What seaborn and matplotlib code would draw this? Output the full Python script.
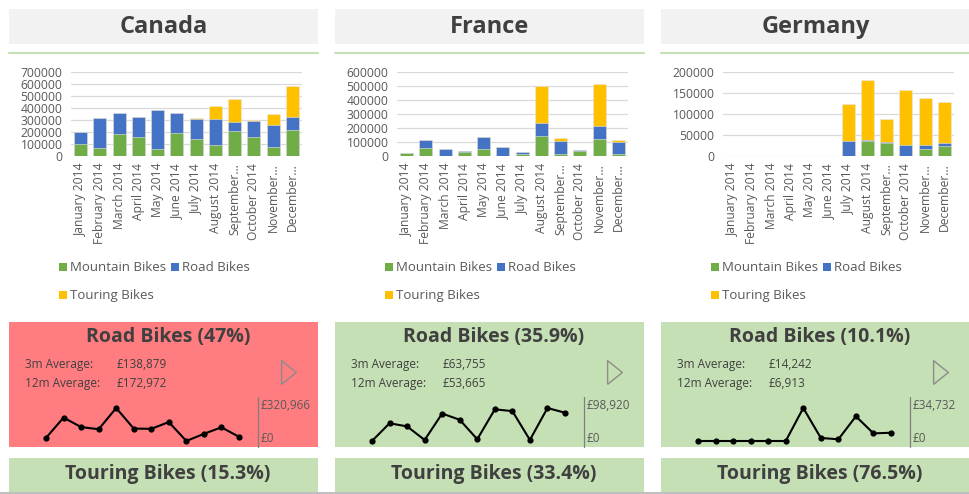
import matplotlib
matplotlib.use("Agg")
import matplotlib.pyplot as plt
import seaborn as sns
import numpy as np
from matplotlib.patches import Rectangle

# ---------------- data ----------------
months = ["January 2014", "February 2014", "March 2014", "April 2014", "May 2014",
          "June 2014", "July 2014", "August 2014", "September 2014", "October 2014",
          "November 2014", "December 2014"]
month_labels = ["January 2014", "February 2014", "March 2014", "April 2014", "May 2014",
                "June 2014", "July 2014", "August 2014", "September…", "October 2014",
                "November…", "December…"]
countries = ["Canada", "France", "Germany"]
products = ["Mountain Bikes", "Road Bikes", "Touring Bikes"]

mountain_ca = [97000, 67000, 181000, 161000, 61000, 189000, 144000, 94000, 206000, 161000, 78000, 214000]
road_ca = [100000, 250000, 180000, 164000, 320966, 169000, 167000, 217000, 77000, 130000, 178000, 108000]
touring_ca = [0, 0, 0, 0, 0, 0, 8000, 106000, 195000, 11000, 94000, 263000]

mountain_fr = [18000, 58000, 3000, 31000, 53000, 2000, 16000, 140000, 17000, 34000, 118000, 17000]
road_fr = [4000, 55000, 46000, 7000, 83000, 65000, 9000, 95000, 90000, 7000, 98920, 85350]
touring_fr = [0, 0, 0, 0, 0, 0, 0, 265000, 24000, 0, 300000, 14000]

mountain_de = [0, 0, 0, 0, 0, 0, 0, 36000, 31000, 0, 17000, 23000]
road_de = [0, 0, 0, 0, 0, 0, 34732, 3200, 1800, 26000, 8000, 8700]
touring_de = [0, 0, 0, 0, 0, 0, 89000, 142000, 55000, 132000, 112000, 98000]

y_max = [700000, 600000, 200000]
y_step = [100000, 100000, 50000]

road_titles = ["Road Bikes (47%)", "Road Bikes (35.9%)", "Road Bikes (10.1%)"]
touring_titles = ["Touring Bikes (15.3%)", "Touring Bikes (33.4%)", "Touring Bikes (76.5%)"]
avg3_text = ["£138,879", "£63,755", "£14,242"]
avg12_text = ["£172,972", "£53,665", "£6,913"]
spark_max_text = ["£320,966", "£98,920", "£34,732"]
card_colors = ["#FF7C80", "#C5E0B4", "#C5E0B4"]

mountain = [mountain_ca, mountain_fr, mountain_de]
road = [road_ca, road_fr, road_de]
touring = [touring_ca, touring_fr, touring_de]

c_mountain, c_road, c_touring = "#70AD47", "#4472C4", "#FFC000"
txt_dark = "#404040"
txt_gray = "#595959"

# ---------------- figure ----------------
sns.set_theme(style="white")
plt.rcParams["font.family"] = ["Open Sans", "DejaVu Sans"]

W, H = 970, 494
fig = plt.figure(figsize=(W / 100, H / 100), dpi=100)
fig.patch.set_facecolor("white")


def px_axes(x, y, w, h):
    return fig.add_axes([x / W, 1 - (y + h) / H, w / W, h / H])


bg = px_axes(0, 0, W, H)
bg.set_xlim(0, W)
bg.set_ylim(H, 0)
bg.axis("off")
bg.set_zorder(0)

col_x = [9, 335, 661]
col_w = 309

for i, cx in enumerate(col_x):
    # title box
    bg.add_patch(Rectangle((cx, 9), col_w, 35, color="#F2F2F2", lw=0))
    bg.text(cx + col_w / 2, 27, countries[i], ha="center", va="center",
            fontsize=17, fontweight="bold", color=txt_dark)
    bg.plot([cx, cx + col_w], [53, 53], color="#C5E0B4", lw=1.5)

    # stacked bar chart
    ax = px_axes(cx + 62, 72, 231, 84)
    ax.set_zorder(2)
    m = np.array(mountain[i])
    r = np.array(road[i])
    t = np.array(touring[i])
    layers = [(m + r + t, c_touring), (m + r, c_road), (m, c_mountain)]
    for vals, col in layers:
        sns.barplot(x=months, y=vals, color=col, width=0.68, errorbar=None,
                    order=months, ax=ax, edgecolor="#E8E8E8", linewidth=0.4,
                    saturation=1)
    ax.set_ylim(0, y_max[i])
    ax.set_yticks(np.arange(0, y_max[i] + 1, y_step[i]))
    ax.set_yticklabels([f"{int(v)}" for v in np.arange(0, y_max[i] + 1, y_step[i])])
    ax.set_xticks(range(12))
    ax.set_xticklabels(month_labels, rotation=90)
    ax.set_xlabel("")
    ax.set_ylabel("")
    ax.yaxis.grid(True, color="#D9D9D9", lw=0.9)
    ax.set_axisbelow(True)
    for s in ax.spines.values():
        s.set_visible(False)
    ax.tick_params(axis="both", length=0, labelsize=8.7, labelcolor=txt_gray)
    ax.tick_params(axis="y", pad=6)
    ax.tick_params(axis="x", pad=5)
    ax.patch.set_alpha(0)

    # legend
    leg = [(cx + 50, 267, c_mountain, products[0]),
           (cx + 162, 267, c_road, products[1]),
           (cx + 50, 295, c_touring, products[2])]
    for lx, ly, col, lab in leg:
        bg.scatter([lx + 4], [ly], marker="s", s=40, color=col, lw=0)
        bg.text(lx + 11, ly, lab, ha="left", va="center", fontsize=9.5, color=txt_gray)

    # road card
    bg.add_patch(Rectangle((cx, 322), col_w, 125, color=card_colors[i], lw=0))
    bg.text(cx + 159, 337, road_titles[i], ha="center", va="center",
            fontsize=14, fontweight="bold", color=txt_dark)
    bg.text(cx + 16, 364, "3m Average:", ha="left", va="center", fontsize=8.5, color=txt_dark)
    bg.text(cx + 16, 383, "12m Average:", ha="left", va="center", fontsize=8.5, color=txt_dark)
    bg.text(cx + 108, 364, avg3_text[i], ha="left", va="center", fontsize=8.5, color=txt_dark)
    bg.text(cx + 108, 383, avg12_text[i], ha="left", va="center", fontsize=8.5, color=txt_dark)
    tri = [(-0.35, -0.6), (-0.35, 0.6), (0.4, 0.0), (-0.35, -0.6)]
    bg.plot([cx + 279], [372], marker=tri, ms=17, mfc="none", mec="#8C8C8C", mew=1)
    bg.plot([cx + 249, cx + 249], [397, 447], color="#7F7F7F", lw=0.9)
    bg.text(cx + 252, 405, spark_max_text[i], ha="left", va="center", fontsize=8.5, color=txt_gray)
    bg.text(cx + 252, 438, "£0", ha="left", va="center", fontsize=8.5, color=txt_gray)

    # sparkline
    sp = px_axes(cx + 37, 408, 193, 33)
    sp.set_zorder(3)
    sns.lineplot(x=list(range(12)), y=road[i], color="black", lw=1.5, marker="o",
                 markersize=4.5, markeredgewidth=0, ax=sp)
    sp.set_xlim(0, 11)
    sp.set_ylim(min(road[i]), max(road[i]))
    for ln in sp.lines:
        ln.set_clip_on(False)
    sp.axis("off")

    # touring card
    bg.add_patch(Rectangle((cx, 458), col_w, 36, color="#C5E0B4", lw=0))
    bg.text(cx + 159, 474, touring_titles[i], ha="center", va="center",
            fontsize=14, fontweight="bold", color=txt_dark)

bg.plot([0, W], [492.5, 492.5], color="#BFBFBF", lw=1.5)

fig.savefig("out.png", dpi=100, facecolor="white")
